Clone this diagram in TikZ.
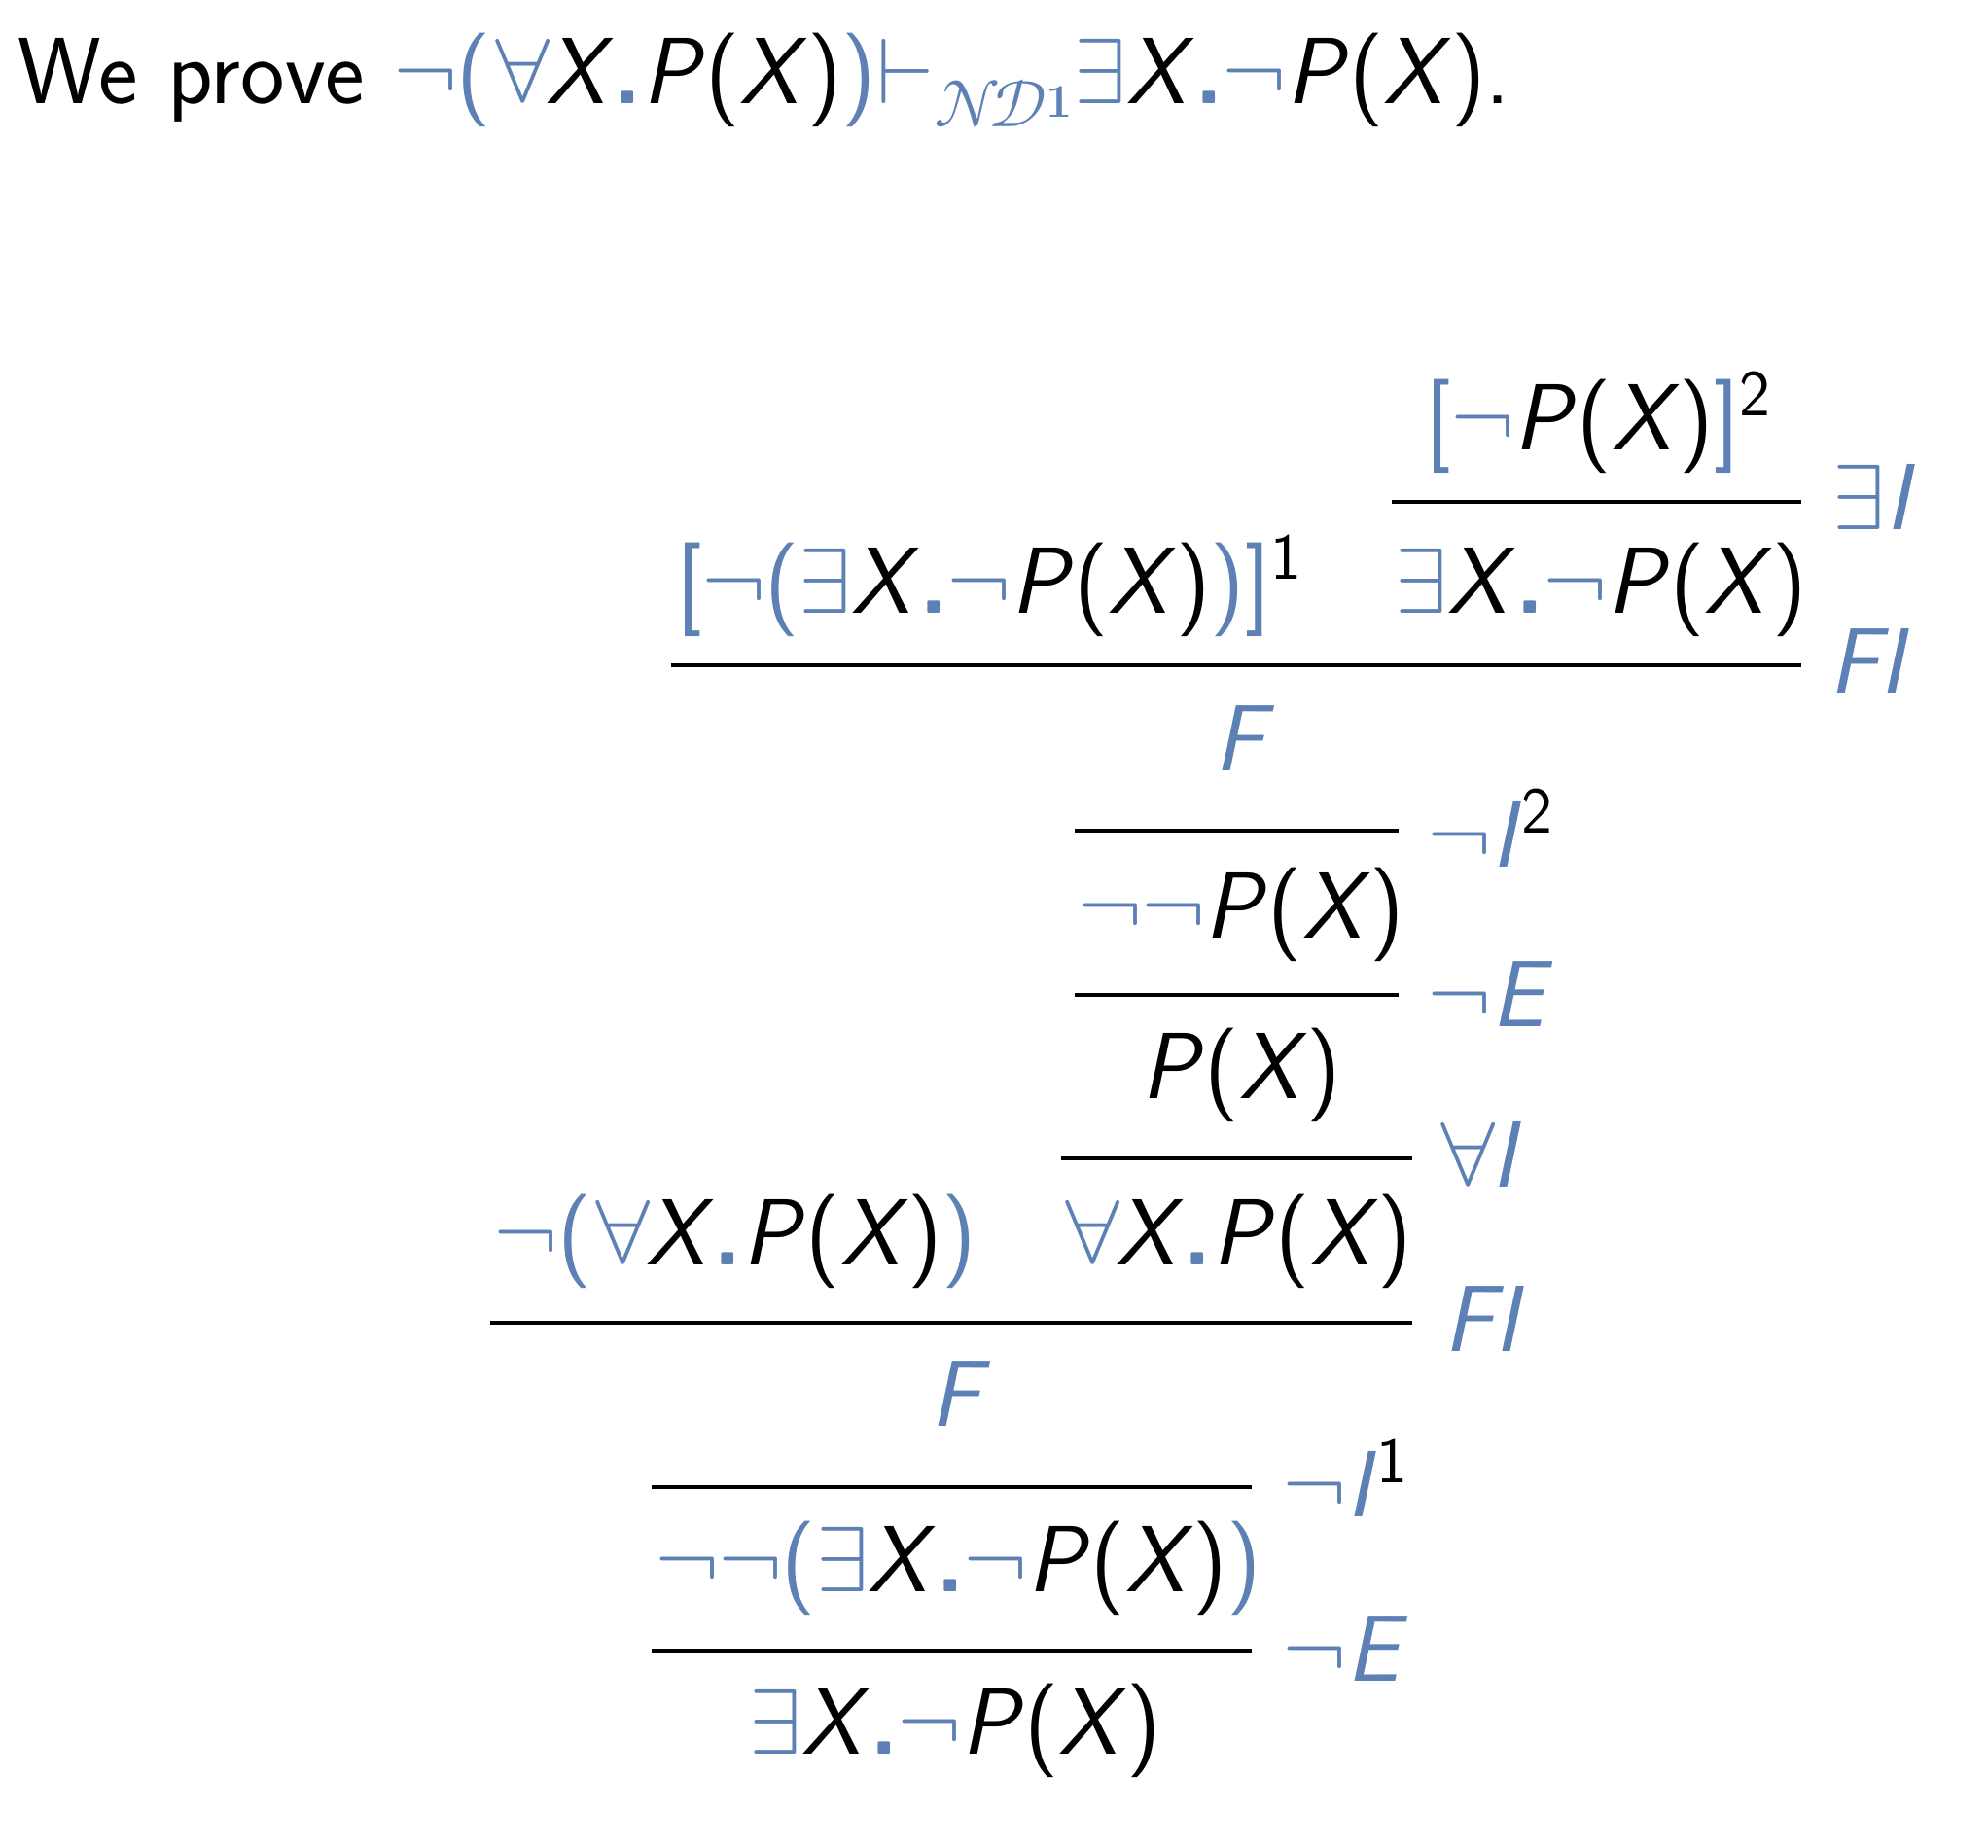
\documentclass[tikz,border=0pt]{standalone}
\usepackage{fontspec}
\usepackage{unicode-math}
\setmathfont{Latin Modern Math}

\definecolor{ndblue}{RGB}{93,128,181}

\newcommand{\vX}{\textit{X}}
\newcommand{\vP}{\textit{P}}
\newcommand{\PX}{\vP(\vX)}
\newcommand{\bneg}{\textcolor{ndblue}{$\neg$}}
\newcommand{\ball}{\textcolor{ndblue}{$\forall$}\kern-0.09em}
\newcommand{\bex}{\textcolor{ndblue}{$\exists$}}
\newcommand{\bdot}{\textcolor{ndblue}{\textbf{.}}}
\newcommand{\bl}{\textcolor{ndblue}{(}}
\newcommand{\br}{\textcolor{ndblue}{)}}
\newcommand{\bsl}{\textcolor{ndblue}{[}}
\newcommand{\bsr}{\textcolor{ndblue}{]}}

\tikzset{
  formula/.style={anchor=base west, inner sep=0pt, font=\fontsize{27.5}{33}\selectfont\sffamily},
  rulename/.style={formula, text=ndblue},
  ruleline/.style={line width=0.9pt}
}

\begin{document}
\begin{tikzpicture}
    \useasboundingbox (0,0) rectangle (20.44,19.00);

    % statement
    \node[formula] (goal) at (0.18,17.93)
        {We prove \bneg\bl\ball\vX\bdot\PX\br\textcolor{ndblue}{$\vdash_{\mathcal{N}\!\mathcal{D}\raisebox{0.25ex}{$\scriptscriptstyle\mathbf{1}$}}$}\bex\vX\bdot\bneg\PX.};

    % upper part
    \node[formula] (hypB) at (14.65,14.37) {\bsl\bneg\PX\bsr\textsuperscript{2}};
    \draw[ruleline] (14.31,13.84) -- (18.52,13.84);
    \node[rulename] (rEI) at (18.84,13.55) {$\exists$\textit{I}};

    \node[formula] (hypA) at (6.95,12.69) {\bsl\bneg\bl\bex\vX\bdot\bneg\PX\br\bsr\textsuperscript{1}};
    \node[formula] (exA) at (14.34,12.69) {\bex\vX\bdot\bneg\PX};
    \draw[ruleline] (6.90,12.16) -- (18.52,12.16);
    \node[rulename] (rFIa) at (18.80,11.86) {\textit{FI}};

    \node[rulename] (falseA) at (12.48,11.07) {\textit{F}};
    \draw[ruleline] (11.05,10.46) -- (14.38,10.46);
    \node[rulename] (rNIb) at (14.68,10.08) {$\neg$\textit{I}\textcolor{black}{\textsuperscript{2}}};

    \node[formula] (nnP) at (11.09,9.35) {\bneg\bneg\PX};
    \draw[ruleline] (11.05,8.77) -- (14.38,8.77);
    \node[rulename] (rNEa) at (14.68,8.44) {$\neg$\textit{E}};

    \node[formula] (pX) at (11.73,7.70) {\PX};
    \draw[ruleline] (10.91,7.09) -- (14.52,7.09);
    \node[rulename] (rAI) at (14.77,6.79) {\ball\textit{I}};

    % lower part
    \node[formula] (prem) at (5.08,5.99) {\bneg\bl\ball\vX\bdot\PX\br};
    \node[formula] (allP) at (10.91,5.99) {\ball\vX\bdot\PX};
    \draw[ruleline] (5.04,5.40) -- (14.52,5.40);
    \node[rulename] (rFIb) at (14.84,5.10) {\textit{FI}};

    \node[rulename] (falseB) at (9.56,4.33) {\textit{F}};
    \draw[ruleline] (6.70,3.71) -- (12.87,3.71);
    \node[rulename] (rNIa) at (13.19,3.40) {$\neg$\textit{I}\textcolor{black}{\textsuperscript{1}}};

    \node[formula] (nnEx) at (6.74,2.63) {\bneg\bneg\bl\bex\vX\bdot\bneg\PX\br};
    \draw[ruleline] (6.70,2.03) -- (12.87,2.03);
    \node[rulename] (rNEb) at (13.19,1.71) {$\neg$\textit{E}};

    \node[formula] (concl) at (7.70,0.96) {\bex\vX\bdot\bneg\PX};
\end{tikzpicture}
\end{document}
